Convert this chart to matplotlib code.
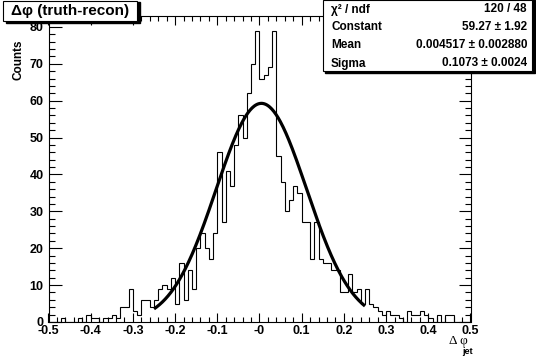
import numpy as np
import matplotlib.pyplot as plt
from matplotlib.patches import Rectangle

plt.rcParams['font.family'] = ['Liberation Sans', 'DejaVu Sans']

# histogram of delta phi (truth - recon), 100 bins from -0.5 to 0.5
bin_edges = np.linspace(-0.5, 0.5, 101)
counts = [0, 0, 0, 1, 0, 0, 0, 1, 0, 2,
          1, 1, 0, 1, 1, 2, 1, 4, 4, 9,
          3, 2, 6, 6, 4, 6, 9, 10, 9, 12,
          5, 16, 6, 14, 9, 20, 24, 20, 17, 24,
          46, 27, 41, 37, 48, 56, 50, 62, 70, 79,
          66, 67, 69, 79, 45, 38, 30, 33, 37, 35,
          27, 27, 17, 27, 17, 16, 16, 14, 14, 8,
          8, 13, 8, 9, 5, 9, 5, 4, 3, 2,
          3, 2, 2, 1, 0, 3, 2, 2, 3, 2,
          1, 0, 2, 0, 2, 2, 0, 0, 0, 0]

# gaussian fit result
fit_const, fit_mean, fit_sigma = 59.27, 0.004517, 0.1073
fit_lo, fit_hi = -0.25, 0.25

x_ticks = [-0.5, -0.4, -0.3, -0.2, -0.1, 0.0, 0.1, 0.2, 0.3, 0.4, 0.5]
x_labels = ["-0.5", "-0.4", "-0.3", "-0.2", "-0.1", "-0", "0.1", "0.2", "0.3", "0.4", "0.5"]
y_ticks = [0, 10, 20, 30, 40, 50, 60, 70, 80]

stats_names = ["\u03c7\u00b2 / ndf", "Constant", "Mean", "Sigma"]
stats_values = ["120 / 48", "59.27 \u00b1 1.92", "0.004517 \u00b1 0.002880", "0.1073 \u00b1 0.0024"]

W, H = 536, 358


def fx(x):
    return x / W


def fy(y):
    return 1 - y / H


fig = plt.figure(figsize=(W / 100, H / 100), dpi=100)
ax = fig.add_axes([fx(48.5), fy(322), 422 / W, 306 / H])

ax.stairs(counts, bin_edges, color="black", linewidth=0.8)

xf = np.linspace(fit_lo, fit_hi, 300)
yf = fit_const * np.exp(-0.5 * ((xf - fit_mean) / fit_sigma) ** 2)
ax.plot(xf, yf, color="black", linewidth=2.3, solid_capstyle="butt")

ax.set_xlim(-0.5, 0.5)
ax.set_ylim(0, 1.05 * max(counts))

ax.set_xticks(x_ticks)
ax.set_xticklabels(x_labels)
ax.set_xticks(np.arange(-0.5, 0.5001, 0.02), minor=True)
ax.set_yticks(y_ticks)
ax.set_yticks(np.arange(0, 83, 2), minor=True)

ax.tick_params(axis="x", which="major", direction="in", length=6.5, width=0.8,
               top=True, labelsize=9, pad=2.5)
ax.tick_params(axis="x", which="minor", direction="in", length=3.3, width=0.8, top=True)
ax.tick_params(axis="y", which="major", direction="in", length=9, width=0.8,
               right=True, labelsize=9, pad=3.5)
ax.tick_params(axis="y", which="minor", direction="in", length=4.5, width=0.8, right=True)
for lab in ax.get_xticklabels() + ax.get_yticklabels():
    lab.set_fontweight("bold")
for s in ax.spines.values():
    s.set_linewidth(0.8)

fig.text(fx(18), fy(60), "Counts", rotation=90, fontsize=8.5, fontweight="bold",
         ha="center", va="center")
fig.text(fx(458), fy(341), "\u0394 \u03c6", fontsize=9.5, ha="center", va="center",
         family=["Liberation Serif", "DejaVu Serif"])
fig.text(fx(467), fy(352), "jet", fontsize=6.5, fontweight="bold", ha="center", va="center")

# title box with shadow
fig.patches.append(Rectangle((fx(6), fy(23)), 134 / W, 21 / H, transform=fig.transFigure,
                             facecolor="black", edgecolor="black", zorder=5))
fig.patches.append(Rectangle((fx(3), fy(21)), 134 / W, 20 / H, transform=fig.transFigure,
                             facecolor="white", edgecolor="black", linewidth=0.8, zorder=6))
fig.text(fx(11), fy(11), "\u0394\u03c6 (truth-recon)", fontsize=11, fontweight="bold",
         ha="left", va="center", zorder=7)

# stats box
fig.patches.append(Rectangle((fx(325), fy(73)), 210 / W, 73 / H, transform=fig.transFigure,
                             facecolor="black", edgecolor="black", zorder=5))
fig.patches.append(Rectangle((fx(323), fy(71)), 209 / W, 71 / H, transform=fig.transFigure,
                             facecolor="white", edgecolor="black", linewidth=0.8, zorder=6))
row_y = [9.5, 27.5, 45.5, 63.5]
for name, val, yy in zip(stats_names, stats_values, row_y):
    fig.text(fx(331), fy(yy), name, fontsize=8.5, fontweight="bold", ha="left", va="center", zorder=7)
    fig.text(fx(527), fy(yy), val, fontsize=8.5, fontweight="bold", ha="right", va="center", zorder=7)

fig.savefig("out.png", dpi=100)
